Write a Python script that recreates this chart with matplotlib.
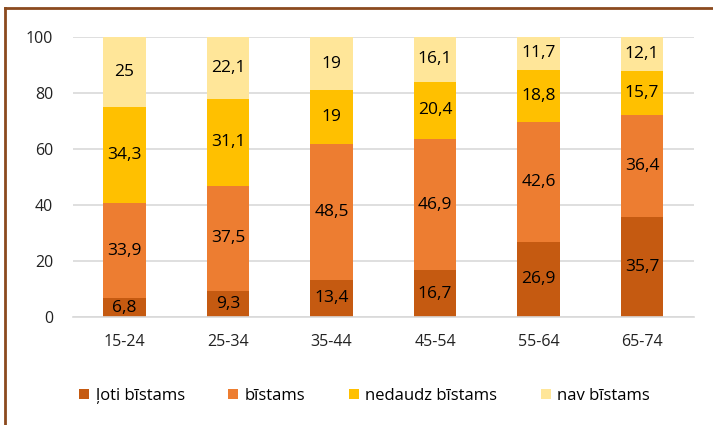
import numpy as np
import matplotlib
matplotlib.use("Agg")
import matplotlib.pyplot as plt
from matplotlib.lines import Line2D

plt.rcParams['font.family'] = ['Open Sans', 'DejaVu Sans']

# ── data ──────────────────────────────────────────────────────────────────────
groups = ["15-24", "25-34", "35-44", "45-54", "55-64", "65-74"]
series_names = ["ļoti bīstams", "bīstams", "nedaudz bīstams", "nav bīstams"]
loti = [6.8, 9.3, 13.4, 16.7, 26.9, 35.7]
bistams = [33.9, 37.5, 48.5, 46.9, 42.6, 36.4]
nedaudz = [34.3, 31.1, 19, 20.4, 18.8, 15.7]
nav = [25, 22.1, 19, 16.1, 11.7, 12.1]
colors = ["#C55A11", "#ED7D31", "#FFC000", "#FFE699"]

fig = plt.figure(figsize=(7.13, 4.25), dpi=100)
ax = fig.add_axes([0.102, 0.254, 0.871, 0.659])

x = np.arange(len(groups))
bottom = np.zeros(len(groups))
for name, vals, col in zip(series_names, [loti, bistams, nedaudz, nav], colors):
    vals = np.array(vals, dtype=float)
    ax.bar(x, vals, 0.41, bottom=bottom, color=col, label=name, zorder=2)
    for xi, b, v in zip(x, bottom, vals):
        ax.text(xi, b + v / 2, f"{v:g}".replace(".", ","), ha="center", va="center",
                fontsize=12.5, color="black", zorder=3)
    bottom += vals

ax.set_ylim(0, 100)
ax.set_xlim(-0.5, len(groups) - 0.5)
ax.set_yticks(range(0, 101, 20))
ax.set_xticks(x)
ax.set_xticklabels(groups)
ax.tick_params(length=0, labelsize=11.5, colors="#222222")
ax.tick_params(axis="x", pad=12)
ax.tick_params(axis="y", pad=14)
ax.grid(axis="y", color="#D9D9D9", linewidth=1.2, zorder=0)
for s in ["top", "right", "left"]:
    ax.spines[s].set_visible(False)
ax.spines["bottom"].set_color("#D9D9D9")
ax.spines["bottom"].set_linewidth(1.2)

ax.legend(loc="upper center", bbox_to_anchor=(0.47, -0.2), ncol=4, frameon=False,
          fontsize=12, handlelength=0.6, handleheight=0.6, handletextpad=0.4,
          columnspacing=2.6)

# brown frame on top and left edges
fig.add_artist(Line2D([5 / 713, 1], [1 - 8 / 425] * 2, color="#8B4A1E", lw=2))
fig.add_artist(Line2D([5 / 713] * 2, [0, 1 - 8 / 425], color="#8B4A1E", lw=2))

fig.savefig("out.png", dpi=100)
